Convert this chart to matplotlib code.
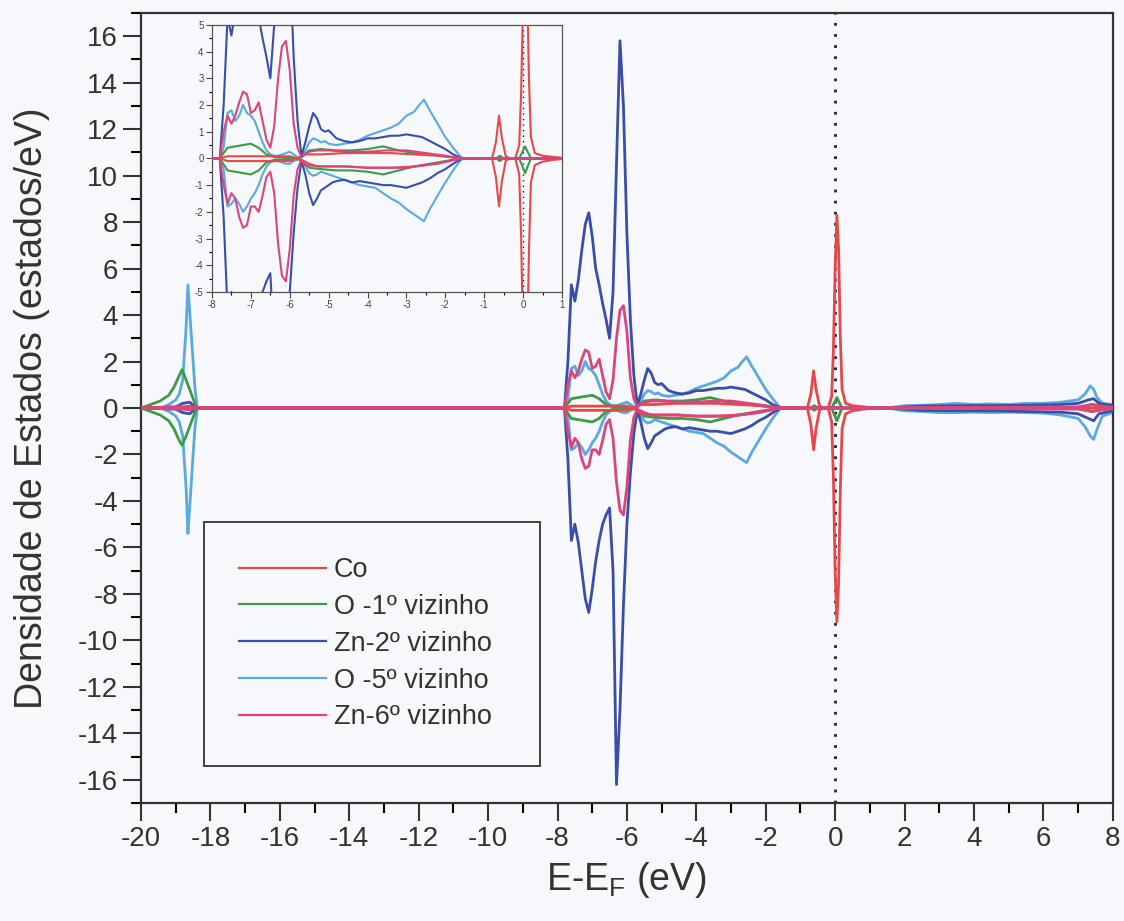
import numpy as np
import matplotlib.pyplot as plt
from matplotlib.ticker import MultipleLocator

plt.rcParams['font.family'] = ['Liberation Sans', 'DejaVu Sans']
plt.rcParams['axes.unicode_minus'] = False

# ---- Co ----
e_co = [-20, -7.8, -7.6, -6.0, -5.8, -5.6, -5.2, -4.6, -4.0, -3.4, -2.8, -2.2, -1.6,
        -0.8, -0.7, -0.62, -0.55, -0.45, -0.35,
        -0.2, -0.1, -0.05, 0.0, 0.05, 0.1, 0.15, 0.2, 0.3, 0.5, 0.8, 1.2, 8.0]
up_co = [0, 0, 0.08, 0.08, 0.0, 0.15, 0.15, 0.2, 0.2, 0.2, 0.15, 0.1, 0,
         0, 0.6, 1.6, 0.8, 0.1, 0,
         0, 0.5, 2.5, 6.0, 8.3, 6.8, 3.0, 0.8, 0.2, 0.1, 0.05, 0, 0]
dn_co = [0, 0, -0.1, -0.1, 0.0, -0.25, -0.3, -0.3, -0.35, -0.35, -0.3, -0.2, 0,
         0, -0.7, -1.8, -0.9, -0.1, 0,
         0, -0.6, -3.0, -7.0, -9.2, -7.5, -3.5, -0.9, -0.25, -0.12, -0.05, 0, 0]

# ---- O 1st neighbour ----
e_o1 = [-20, -19.45, -19.35, -19.2, -19.05, -18.9, -18.82, -18.7, -18.55, -18.4,
        -7.8, -7.6, -7.4, -7.2, -7.0, -6.8, -6.6, -6.4, -6.0, -5.75,
        -5.5, -5.2, -4.8, -4.4, -4.0, -3.6, -3.2, -2.8, -2.4, -2.0, -1.6,
        -0.7, -0.6, -0.5, -0.1, 0.05, 0.2, 0.5,
        7.0, 7.4, 7.8, 8.0]
up_o1 = [0, 0.3, 0.4, 0.55, 0.9, 1.4, 1.65, 1.2, 0.6, 0,
         0, 0.4, 0.45, 0.5, 0.55, 0.4, 0.15, 0.05, 0.02, 0,
         0.3, 0.35, 0.3, 0.3, 0.35, 0.45, 0.3, 0.2, 0.15, 0.08, 0,
         0, 0.1, 0, 0, 0.45, 0, 0,
         0, 0.15, 0.05, 0]
dn_o1 = [0, -0.3, -0.4, -0.55, -0.9, -1.4, -1.6, -1.2, -0.6, 0,
         0, -0.45, -0.5, -0.55, -0.6, -0.45, -0.15, -0.05, -0.02, 0,
         -0.35, -0.4, -0.45, -0.45, -0.5, -0.6, -0.45, -0.3, -0.2, -0.1, 0,
         0, -0.1, 0, 0, -0.55, 0, 0,
         0, -0.15, -0.05, 0]

# ---- Zn 2nd neighbour ----
e_zn2 = [-20, -19.0, -18.8, -18.6, -18.4,
         -7.8, -7.7, -7.6, -7.5, -7.4, -7.3, -7.2, -7.1, -7.0, -6.9, -6.8, -6.7,
         -6.6, -6.5, -6.4, -6.3, -6.2, -6.1, -6.0, -5.9, -5.8, -5.7,
         -5.6, -5.5, -5.4, -5.3, -5.2, -5.1, -5.0, -4.9, -4.8,
         -4.6, -4.4, -4.2, -4.0, -3.8, -3.6, -3.4, -3.2, -3.0, -2.8, -2.6, -2.4,
         -2.2, -2.0, -1.8, -1.6, -1.5,
         1.5, 2.5, 3.5, 4.5, 5.5, 6.5, 7.0, 7.3, 7.45, 7.6, 8.0]
up_zn2 = [0, 0.05, 0.2, 0.25, 0,
          0, 2.0, 5.3, 4.6, 5.5, 6.8, 7.9, 8.4, 7.4, 6.0, 5.3, 4.5,
          3.8, 3.0, 5.0, 10.5, 15.8, 13.0, 7.5, 3.8, 1.4, 0.1,
          0.6, 1.2, 1.7, 1.5, 1.1, 1.0, 1.05, 0.9, 0.75,
          0.65, 0.6, 0.65, 0.75, 0.75, 0.8, 0.85, 0.85, 0.9, 0.85, 0.8, 0.65,
          0.5, 0.35, 0.15, 0.02, 0,
          0, 0.08, 0.1, 0.1, 0.12, 0.15, 0.2, 0.35, 0.4, 0.2, 0.1]
dn_zn2 = [0, -0.05, -0.2, -0.25, 0,
          0, -2.2, -5.7, -5.0, -5.8, -7.0, -8.2, -8.8, -7.8, -6.6, -5.7, -5.0,
          -4.6, -4.3, -7.0, -16.2, -13.0, -8.5, -5.0, -2.8, -1.1, -0.1,
          -0.6, -1.3, -1.75, -1.5, -1.2, -1.1, -1.0, -0.9, -0.85,
          -0.8, -0.9, -0.85, -0.9, -0.95, -1.0, -1.0, -1.05, -1.1, -1.0, -0.9, -0.75,
          -0.55, -0.4, -0.2, -0.03, 0,
          0, -0.1, -0.12, -0.12, -0.15, -0.18, -0.25, -0.45, -0.55, -0.25, -0.12]

# ---- O 5th neighbour ----
e_o5 = [-20, -19.4, -19.2, -19.0, -18.9, -18.8, -18.7, -18.65, -18.6, -18.5, -18.45, -18.38,
        -7.8, -7.7, -7.6, -7.5, -7.4, -7.3, -7.2, -7.1, -7.0, -6.9, -6.8, -6.7,
        -6.6, -6.5, -6.4, -6.3, -6.2, -6.1, -6.0, -5.9, -5.8, -5.7,
        -5.6, -5.5, -5.4, -5.3, -5.2, -5.1, -5.0,
        -4.8, -4.6, -4.4, -4.2, -4.0, -3.8, -3.6, -3.4, -3.2, -3.0, -2.8,
        -2.7, -2.55, -2.4, -2.2, -2.0, -1.8, -1.6, -1.5,
        1.5, 2.0, 2.5, 3.0, 3.5, 4.0, 4.5, 5.0, 5.5, 6.0, 6.5, 7.0, 7.2, 7.35, 7.45, 7.55, 7.7, 8.0]
up_o5 = [0, 0.02, 0.15, 0.35, 0.6, 1.2, 3.5, 5.3, 4.2, 2.0, 0.9, 0,
         0, 0.4, 1.7, 1.8, 1.4, 1.6, 2.0, 1.7, 1.6, 1.4, 1.0, 0.6,
         0.3, 0.15, 0.1, 0.1, 0.15, 0.2, 0.25, 0.15, 0.05, 0.05,
         0.3, 0.6, 0.75, 0.7, 0.6, 0.65, 0.55,
         0.5, 0.55, 0.6, 0.7, 0.85, 0.95, 1.05, 1.15, 1.3, 1.6, 1.75,
         1.95, 2.2, 1.8, 1.3, 0.8, 0.4, 0.05, 0,
         0, 0.1, 0.12, 0.15, 0.2, 0.15, 0.18, 0.15, 0.2, 0.2, 0.25, 0.35, 0.6, 0.95, 0.8, 0.45, 0.2, 0.15]
dn_o5 = [0, -0.02, -0.15, -0.35, -0.6, -1.2, -3.5, -5.4, -4.3, -2.0, -0.9, 0,
         0, -0.4, -1.8, -1.7, -1.5, -1.7, -2.0, -1.8, -1.5, -1.3, -1.0, -0.6,
         -0.3, -0.15, -0.1, -0.1, -0.15, -0.2, -0.2, -0.1, -0.05, -0.05,
         -0.3, -0.55, -0.65, -0.6, -0.5, -0.55, -0.6,
         -0.7, -0.8, -0.9, -1.0, -1.05, -1.1, -1.3, -1.5, -1.65, -1.9, -2.1,
         -2.2, -2.35, -1.9, -1.4, -0.9, -0.45, -0.05, 0,
         0, -0.12, -0.15, -0.2, -0.2, -0.18, -0.2, -0.18, -0.2, -0.22, -0.3, -0.45, -0.8, -1.2, -1.35, -0.9, -0.35, -0.2]

# ---- Zn 6th neighbour ----
e_zn6 = [-20, -18.8, -18.6, -18.4,
         -7.8, -7.7, -7.6, -7.5, -7.4, -7.3, -7.2, -7.1, -7.0, -6.9, -6.8, -6.7,
         -6.6, -6.5, -6.4, -6.3, -6.2, -6.1, -6.0, -5.9, -5.8, -5.7,
         -5.5, -5.3, -5.0, -4.5, -4.0, -3.5, -3.0, -2.5, -2.0, -1.6,
         1.5, 7.0, 7.4, 7.8, 8.0]
up_zn6 = [0, 0.05, 0.08, 0,
          0, 1.0, 1.6, 1.3, 1.6, 2.1, 2.5, 2.4, 1.7, 1.8, 2.1, 1.4,
          0.7, 0.4, 1.2, 3.0, 4.2, 4.4, 3.3, 1.3, 0.4, 0.05,
          0.25, 0.3, 0.3, 0.25, 0.25, 0.3, 0.3, 0.2, 0.1, 0,
          0, 0.05, 0.15, 0.05, 0.03]
dn_zn6 = [0, -0.05, -0.08, 0,
          0, -1.0, -1.7, -1.3, -1.5, -2.2, -2.6, -2.5, -1.8, -1.8, -2.0, -1.4,
          -0.7, -0.5, -1.3, -3.2, -4.4, -4.6, -3.4, -1.4, -0.4, -0.05,
          -0.2, -0.3, -0.3, -0.3, -0.35, -0.35, -0.35, -0.25, -0.12, 0,
          0, -0.05, -0.15, -0.05, -0.03]

series = [
    ("Co", e_co, up_co, dn_co, "#e8474a", 5),
    ("O -1º vizinho", e_o1, up_o1, dn_o1, "#3f9a48", 4),
    ("Zn-2º vizinho", e_zn2, up_zn2, dn_zn2, "#3a4ea8", 3),
    ("O -5º vizinho", e_o5, up_o5, dn_o5, "#5aaae0", 2),
    ("Zn-6º vizinho", e_zn6, up_zn6, dn_zn6, "#d9457f", 6),
]

bg = "#f6f8fb"
fig = plt.figure(figsize=(11.24, 9.21), dpi=100, facecolor=bg)
ax = fig.add_axes([0.1255, 0.128, 0.8645, 0.858], facecolor=bg)

for name, e, up, dn, c, z in series:
    ax.plot(e, up, color=c, lw=2.0, label=name, zorder=z)
    ax.plot(e, dn, color=c, lw=2.0, zorder=z)

ax.axvline(0, color="#222222", ls=(0, (1, 3)), lw=2, zorder=1)

ax.set_xlim(-20, 8)
ax.set_ylim(-17, 17)
ax.xaxis.set_major_locator(MultipleLocator(2))
ax.xaxis.set_minor_locator(MultipleLocator(1))
ax.yaxis.set_major_locator(MultipleLocator(2))
ax.yaxis.set_minor_locator(MultipleLocator(1))
ax.tick_params(which="major", length=13, width=1.5, labelsize=20, colors="#333333")
ax.tick_params(which="minor", length=7, width=1.5)
for s in ax.spines.values():
    s.set_linewidth(1.6)
    s.set_color("#333333")

ax.set_xlabel("E-E$_\\mathregular{F}$ (eV)", fontsize=27, color="#333333", labelpad=6)
ax.set_ylabel("Densidade de Estados (estados/eV)", fontsize=27, color="#333333", labelpad=20)

leg = ax.legend(loc="upper left", bbox_to_anchor=(0.0645, 0.0, 0.346, 0.356),
                mode="expand", borderaxespad=0, fontsize=19.5, handlelength=3.2,
                handletextpad=0.3, borderpad=1.3, labelspacing=0.4,
                fancybox=False, framealpha=1, facecolor=bg, edgecolor="#333333")
leg.get_frame().set_linewidth(1.3)
for line in leg.get_lines():
    line.set_linewidth(1.6)
for t in leg.get_texts():
    t.set_color("#333333")

# inset
ins = fig.add_axes([0.1886, 0.683, 0.3114, 0.290], facecolor=bg)
for name, e, up, dn, c, z in series:
    ins.plot(e, up, color=c, lw=1.5, zorder=z)
    ins.plot(e, dn, color=c, lw=1.5, zorder=z)
ins.axvline(0, color="#222222", ls=(0, (1, 3)), lw=1, zorder=1)
ins.set_xlim(-8, 1)
ins.set_ylim(-5, 5)
ins.xaxis.set_major_locator(MultipleLocator(1))
ins.xaxis.set_minor_locator(MultipleLocator(0.5))
ins.yaxis.set_major_locator(MultipleLocator(1))
ins.yaxis.set_minor_locator(MultipleLocator(0.5))
ins.tick_params(which="major", length=4, width=0.8, labelsize=7, colors="#444444", pad=2)
ins.tick_params(which="minor", length=2, width=0.8)
for s in ins.spines.values():
    s.set_linewidth(0.9)
    s.set_color("#555555")

fig.savefig("out.png", dpi=100, facecolor=bg)
